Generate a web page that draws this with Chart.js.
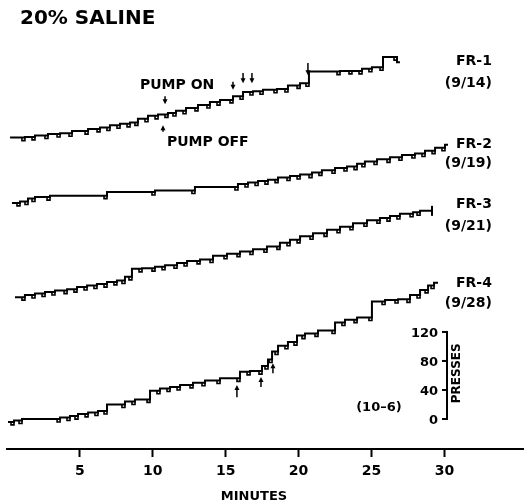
<!DOCTYPE html>
<html lang="en">
<head>
<meta charset="UTF-8">
<title>20% Saline</title>
<script src="https://cdn.jsdelivr.net/npm/chart.js@4.4.0/dist/chart.umd.min.js"></script>
<style>
  html, body { margin: 0; padding: 0; background: #fff; overflow: hidden; }
  canvas { display: block; }
</style>
</head>
<body>
<canvas id="record" width="524" height="504"></canvas>
<script>
// cumulative records: minute of each step, presses counted from the start of that session
const fr1Min = [0.21, 1.23, 1.92, 2.81, 3.64, 4.46, 5.56, 6.38, 7.06, 7.75, 8.44, 8.98, 9.67, 10.36, 11.04, 11.59, 12.28, 13.10, 13.92, 14.61, 15.50, 16.19, 16.87, 17.56, 18.52, 19.27, 20.10, 20.71, 22.84, 23.66, 24.35, 25.03, 25.79, 26.75, 26.95];
const fr1Presses = [0, 0, 1, 3, 5, 6, 9, 12, 14, 17, 19, 21, 26, 30, 32, 34, 37, 41, 45, 49, 52, 57, 63, 64, 66, 67, 72, 75, 91, 92, 92, 95, 97, 111, 104];

const fr2Min = [0.34, 0.89, 1.44, 1.92, 2.95, 6.86, 10.15, 12.89, 15.84, 16.53, 17.22, 17.90, 18.59, 19.41, 20.10, 20.92, 21.60, 22.50, 23.32, 24.01, 24.55, 25.38, 26.27, 27.09, 27.98, 28.67, 29.36, 30.04, 30.25];
const fr2Presses = [0, 0, 2, 6, 8, 10, 15, 17, 22, 26, 28, 30, 32, 35, 37, 39, 42, 45, 48, 50, 54, 57, 60, 63, 66, 68, 72, 76, 80];

const fr3Min = [0.55, 1.23, 1.92, 2.61, 3.29, 4.12, 4.80, 5.49, 6.17, 6.86, 7.54, 8.09, 8.57, 9.26, 10.15, 10.84, 11.66, 12.35, 13.24, 14.13, 15.09, 15.98, 16.87, 17.83, 18.72, 19.41, 20.10, 20.99, 21.95, 22.84, 23.73, 24.69, 25.58, 26.27, 26.95, 27.85, 28.33, 29.15];
const fr3Presses = [0, 0, 3, 5, 7, 9, 11, 14, 16, 18, 21, 23, 28, 39, 40, 42, 44, 47, 50, 52, 57, 60, 63, 66, 70, 75, 79, 84, 88, 93, 97, 102, 106, 109, 112, 115, 117, 119];

const fr4Min = [0.07, 0.48, 1.03, 3.64, 4.32, 4.87, 5.56, 6.24, 6.86, 8.09, 8.78, 9.81, 10.49, 11.18, 11.87, 12.76, 13.58, 14.61, 15.98, 16.67, 17.49, 17.90, 18.18, 18.59, 19.27, 19.89, 20.44, 21.33, 22.50, 23.18, 24.01, 25.03, 25.93, 26.82, 27.64, 28.33, 28.88, 29.29, 29.56];
const fr4Presses = [0, 0, 2, 4, 6, 8, 11, 13, 15, 24, 28, 31, 43, 46, 48, 51, 54, 57, 60, 69, 70, 77, 86, 97, 105, 110, 119, 122, 126, 137, 141, 144, 166, 168, 169, 175, 182, 188, 192];

// where each pen starts on the presses scale
const penStart = [388, 298, 168, -4];
const recordNames = ['FR-1', 'FR-2', 'FR-3', 'FR-4'];
const recordDates = ['(9/14)', '(9/19)', '(9/21)', '(9/28)'];

const minuteTicks = [5, 10, 15, 20, 25, 30];
const pressTicks = [0, 40, 80, 120];

// [minute, tail, tip] in presses
const pumpArrows = [[10.84, 445, 434], [10.70, 396, 405]];
const fr1Arrows = [[15.50, 465, 454], [16.19, 477, 463], [16.80, 477, 463], [20.64, 491, 474]];
const fr4Arrows = [[15.77, 30, 47], [17.42, 44, 58], [18.24, 63, 77]];

const FONT = 'DejaVu Sans';

const records = [[fr1Min, fr1Presses], [fr2Min, fr2Presses], [fr3Min, fr3Presses], [fr4Min, fr4Presses]];

const datasets = records.map(([mins, counts], i) => {
  const last = mins.length - 1;
  const endBar = i === 2;
  return {
    label: recordNames[i],
    data: mins.map((m, j) => ({ x: m, y: counts[j] + penStart[i] })),
    borderColor: '#000',
    borderWidth: 2,
    stepped: 'after',
    fill: false,
    pointStyle: 'line',
    pointRotation: 90,
    pointRadius: ctx => (endBar && ctx.dataIndex === last) ? 5 : 0,
    pointBorderColor: '#000',
    pointBorderWidth: 2
  };
});

const notes = {
  id: 'notes',
  afterDatasetsDraw(chart) {
    const { ctx, scales: { x, y } } = chart;
    ctx.save();
    ctx.fillStyle = '#000';
    ctx.strokeStyle = '#000';

    // pen dips at every step of the records
    ctx.lineWidth = 1.6;
    chart.data.datasets.forEach((ds, i) => {
      const pts = chart.getDatasetMeta(i).data;
      pts.forEach((p, j) => {
        if (j === 0 || j === pts.length - 1) return;
        ctx.beginPath();
        ctx.moveTo(p.x - 3, p.y);
        ctx.lineTo(p.x - 3, p.y + 3);
        ctx.lineTo(p.x, p.y + 3);
        ctx.lineTo(p.x, p.y);
        ctx.stroke();
      });
    });

    ctx.textBaseline = 'alphabetic';
    ctx.font = `bold 20px "${FONT}"`;
    ctx.textAlign = 'left';
    ctx.fillText('20% SALINE', 20, 24);

    // session labels
    const nameAt = [[488, 458], [373, 348], [291, 261], [182, 155]];
    ctx.font = `bold 14px "${FONT}"`;
    ctx.textAlign = 'right';
    recordNames.forEach((n, i) => {
      const px = x.getPixelForValue(33.26);
      ctx.fillText(n, px, y.getPixelForValue(nameAt[i][0]));
      ctx.fillText(recordDates[i], px, y.getPixelForValue(nameAt[i][1]));
    });

    ctx.textAlign = 'left';
    ctx.fillText('PUMP ON', x.getPixelForValue(9.12), y.getPixelForValue(455));
    ctx.fillText('PUMP OFF', x.getPixelForValue(10.97), y.getPixelForValue(377));

    const arrow = ([m, tail, tip]) => {
      const px = x.getPixelForValue(m);
      const y0 = y.getPixelForValue(tail);
      const y1 = y.getPixelForValue(tip);
      const dir = Math.sign(y1 - y0);
      ctx.lineWidth = 1.5;
      ctx.beginPath();
      ctx.moveTo(px, y0);
      ctx.lineTo(px, y1 - dir * 3);
      ctx.stroke();
      ctx.beginPath();
      ctx.moveTo(px, y1);
      ctx.lineTo(px - 2.5, y1 - dir * 5);
      ctx.lineTo(px + 2.5, y1 - dir * 5);
      ctx.closePath();
      ctx.fill();
    };
    pumpArrows.forEach(arrow);
    fr1Arrows.forEach(arrow);
    fr4Arrows.forEach(arrow);

    // presses scale bar
    const bx = x.getPixelForValue(30.18);
    const yTop = y.getPixelForValue(pressTicks[pressTicks.length - 1]);
    const yBot = y.getPixelForValue(pressTicks[0]);
    ctx.lineWidth = 2;
    ctx.beginPath();
    ctx.moveTo(bx, yTop - 1);
    ctx.lineTo(bx, yBot + 1);
    ctx.stroke();
    ctx.font = `bold 13px "${FONT}"`;
    ctx.textAlign = 'right';
    pressTicks.forEach(v => {
      const py = y.getPixelForValue(v);
      ctx.beginPath();
      ctx.moveTo(bx - 5, py);
      ctx.lineTo(bx, py);
      ctx.stroke();
      ctx.fillText(String(v), bx - 9, py + 5);
    });
    ctx.save();
    ctx.translate(bx + 10, y.getPixelForValue(63));
    ctx.rotate(-Math.PI / 2);
    ctx.font = `bold 12px "${FONT}"`;
    ctx.textAlign = 'center';
    ctx.textBaseline = 'middle';
    ctx.fillText('PRESSES', 0, 0);
    ctx.restore();

    ctx.font = `bold 13px "${FONT}"`;
    ctx.textAlign = 'center';
    ctx.fillText('(10\u20136)', x.getPixelForValue(25.51), y.getPixelForValue(18) + 5);

    ctx.fillText('MINUTES', x.getPixelForValue(16.94), 500);
    ctx.restore();
  }
};

new Chart(document.getElementById('record'), {
  type: 'line',
  data: { datasets },
  options: {
    responsive: false,
    devicePixelRatio: 1,
    animation: false,
    events: [],
    layout: { autoPadding: false, padding: { left: 7, right: 0, top: 30, bottom: 25 } },
    plugins: { legend: { display: false }, tooltip: { enabled: false } },
    scales: {
      x: {
        type: 'linear',
        min: 0,
        max: 35.46,
        afterBuildTicks: axis => { axis.ticks = minuteTicks.map(v => ({ value: v })); },
        afterFit: axis => {
          axis.height = 30;
          axis.paddingLeft = 0;
          axis.paddingRight = 0;
        },
        grid: { display: true, drawOnChartArea: false, drawTicks: true, tickLength: 8, tickWidth: 2, tickColor: '#000' },
        border: { display: true, color: '#000', width: 2 },
        ticks: { color: '#000', font: { family: FONT, weight: 'bold', size: 14 }, padding: 6, maxRotation: 0, autoSkip: false }
      },
      y: { display: false, min: -41.4, max: 536.4 }
    }
  },
  plugins: [notes]
});
</script>
</body>
</html>
